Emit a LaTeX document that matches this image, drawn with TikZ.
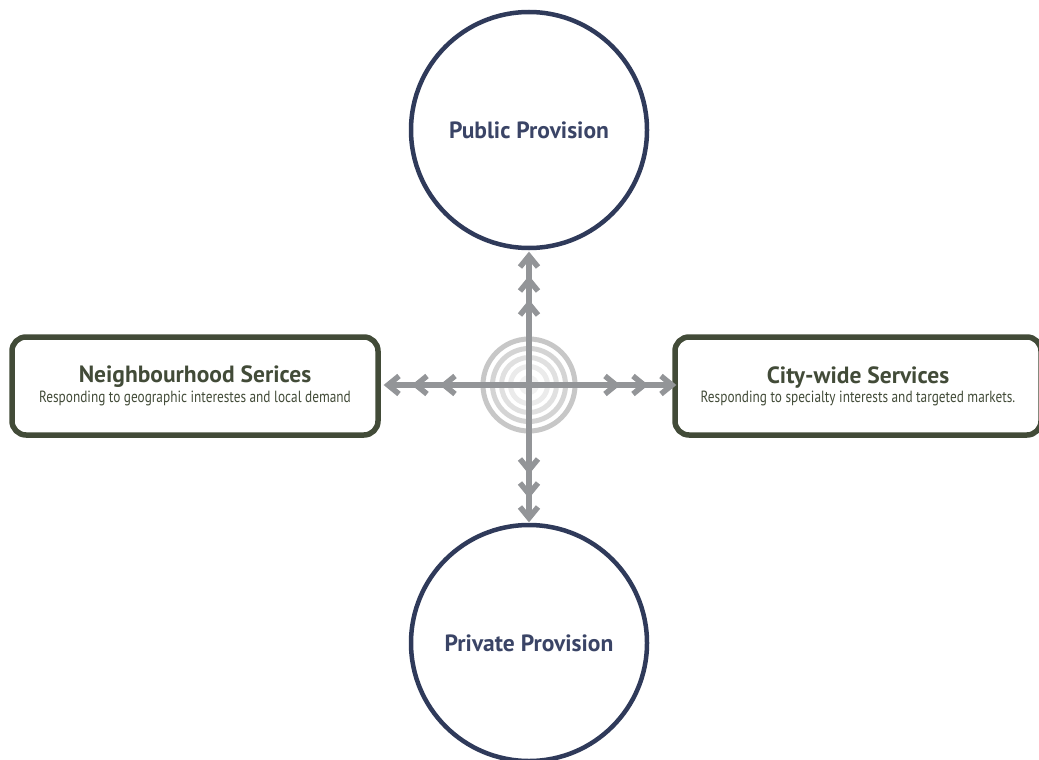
\documentclass[tikz,border=0pt]{standalone}
\usepackage{fontspec}
\setmainfont{PT Sans}
\newfontfamily\condfont[FakeStretch=0.82]{PT Sans}
\usetikzlibrary{calc}
\definecolor{navy}{HTML}{2F3A5A}
\definecolor{navytext}{HTML}{3A4466}
\definecolor{olive}{HTML}{424B38}
\definecolor{arrowgray}{HTML}{939598}
\tikzset{
  provision/.style={circle, draw=navy, line width=4.5pt, minimum size=236pt, inner sep=0pt,
    font=\bfseries\fontsize{23.5}{26}\selectfont, text=navytext},
  service/.style={draw=olive, line width=5.5pt, rounded corners=14pt, minimum width=366pt,
    minimum height=98pt, align=center, text=olive, inner sep=0pt},
  axis/.style={draw=arrowgray, line width=5.5pt},
  chev/.style={draw=arrowgray, line width=5.5pt, line join=miter},
  ring/.style={line width=5pt}
}
\newcommand{\ttl}[1]{{\bfseries\fontsize{23.5}{26}\selectfont #1}}
\newcommand{\sub}[1]{{\condfont\fontsize{16.2}{18}\selectfont #1}}
\begin{document}
\begin{tikzpicture}[x=1pt,y=-1pt]
\useasboundingbox (0,0) rectangle (1039,760);
% nodes
\node[provision] (pub) at (529,130) {Public Provision};
\node[provision] (priv) at (529,643) {Private Provision};
\node[service] (nbh) at (195,386) {\ttl{Neighbourhood Serices}\\[2pt]\sub{Responding to geographic interestes and local demand}};
\node[service] (city) at (858,386) {\ttl{City-wide Services}\\[2pt]\sub{Responding to specialty interests and targeted markets.}};
% target
\coordinate (c) at (529,385);
\fill[white] (c) circle (49pt);
\draw[ring, draw=black!22] (c) circle (46pt);
\draw[ring, draw=black!17] (c) circle (36.5pt);
\draw[ring, draw=black!12] (c) circle (27.5pt);
\draw[ring, draw=black!8] (c) circle (18.5pt);
\fill[black!5] (c) circle (10pt);
% axis ends
\coordinate (up) at (529,256);
\coordinate (dn) at (529,518);
\coordinate (lt) at (388,385);
\coordinate (rt) at (672,385);
\draw[axis] (c) -- (up);
\draw[axis] (c) -- (dn);
\draw[axis] (c) -- (lt);
\draw[axis] (c) -- (rt);
% chevrons
\foreach \d in {0,24,48}{
  \draw[chev] ($(up)+(-9,11+\d)$) -- ($(up)+(0,\d)$) -- ($(up)+(9,11+\d)$);
  \draw[chev] ($(dn)+(-9,-11-\d)$) -- ($(dn)+(0,-\d)$) -- ($(dn)+(9,-11-\d)$);
}
\foreach \d in {0,28,56}{
  \draw[chev] ($(lt)+(11+\d,-9)$) -- ($(lt)+(\d,0)$) -- ($(lt)+(11+\d,9)$);
  \draw[chev] ($(rt)+(-11-\d,-9)$) -- ($(rt)+(-\d,0)$) -- ($(rt)+(-11-\d,9)$);
}
\end{tikzpicture}
\end{document}
